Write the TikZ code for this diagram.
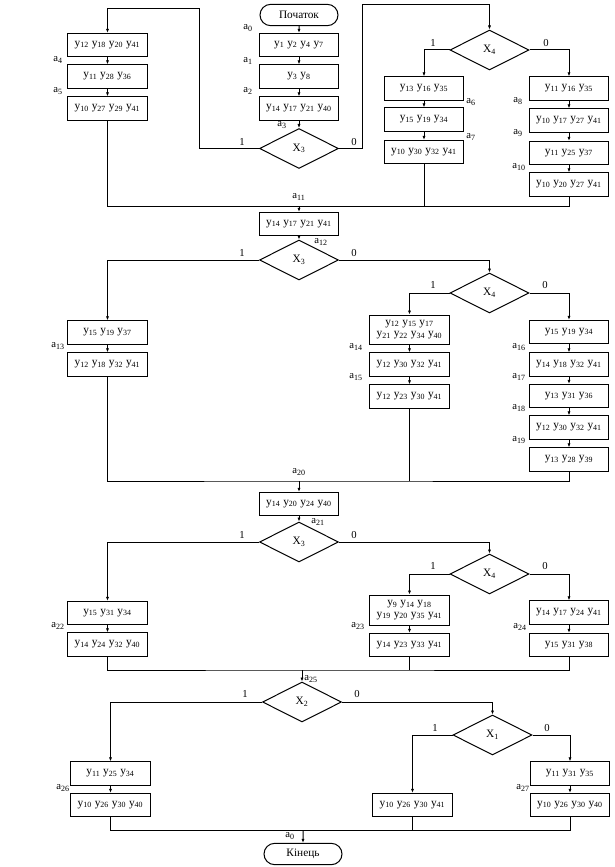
\documentclass[tikz,border=0pt]{standalone}
\usepackage{fontspec}
\setmainfont{Liberation Serif}
\usetikzlibrary{shapes.geometric,shapes.misc,arrows.meta}
\newcommand{\yv}[1]{y\textsubscript{#1}}
\newcommand{\av}[1]{a\textsubscript{#1}}
\tikzset{every picture/.style={line width=0.75pt}}
\tikzset{
  box/.style={draw, rectangle, minimum width=59.5pt, minimum height=17.5pt, inner sep=0.75pt, align=center, font=\fontsize{8.5}{9.5}\selectfont},
  cond/.style={draw, diamond, aspect=2, minimum width=59.25pt, minimum height=30pt, inner sep=0pt, font=\fontsize{8.5}{9.5}\selectfont},
  term/.style={draw, rounded rectangle, minimum width=60pt, minimum height=16pt, inner sep=0.75pt, font=\fontsize{8.5}{9.5}\selectfont},
  lbl/.style={inner sep=0.75pt, font=\fontsize{8}{9}\selectfont},
  arr/.style={-{Latex[length=3pt,width=2.4pt]}}
}

\begin{document}
\begin{tikzpicture}[x=0.75pt,y=0.75pt,yscale=-1,xscale=1]
\useasboundingbox (0,0) rectangle (614,867);

%Block: a0 -- a11
\node [term] (start) at (299,15) {Початок};
\node [box] (b1) at (299,45) {\yv{1} \yv{2} \yv{4} \yv{7}};
\node [box] (b2) at (299,76.5) {\yv{3} \yv{8}};
\node [box] (b3) at (299,108.5) {\yv{14} \yv{17} \yv{21} \yv{40}};
\node [cond] (d1) at (299,148.5) {X\textsubscript{3}};
\node [box] (L1) at (107.5,45) {\yv{12} \yv{18} \yv{20} \yv{41}};
\node [box] (L2) at (107.5,76.5) {\yv{11} \yv{28} \yv{36}};
\node [box] (L3) at (107.5,108.5) {\yv{10} \yv{27} \yv{29} \yv{41}};
\node [cond] (d2) at (489.5,50) {X\textsubscript{4}};
\node [box] (M1) at (424,88.5) {\yv{13} \yv{16} \yv{35}};
\node [box] (M2) at (424,119.5) {\yv{15} \yv{19} \yv{34}};
\node [box] (M3) at (424,152) {\yv{10} \yv{30} \yv{32} \yv{41}};
\node [box] (R1) at (569,88.5) {\yv{11} \yv{16} \yv{35}};
\node [box] (R2) at (569,120.5) {\yv{10} \yv{17} \yv{27} \yv{41}};
\node [box] (R3) at (569,153) {\yv{11} \yv{25} \yv{37}};
\node [box] (R4) at (569,184.5) {\yv{10} \yv{20} \yv{27} \yv{41}};
\coordinate (c1) at (199,9);
\coordinate (c2) at (362,5);
\coordinate (m1) at (299,206.5);

\draw [arr] (start) -- (b1);
\draw [arr] (b1) -- (b2);
\draw [arr] (b2) -- (b3);
\draw [arr] (b3) -- (d1);
\draw [arr] (d1.west) -| (c1) -| (L1.north);
\draw [arr] (L1) -- (L2);
\draw [arr] (L2) -- (L3);
\draw [arr] (d1.east) -| (c2) -| (d2.north);
\draw [arr] (d2.west) -| (M1.north);
\draw [arr] (M1) -- (M2);
\draw [arr] (M2) -- (M3);
\draw [arr] (d2.east) -| (R1.north);
\draw [arr] (R1) -- (R2);
\draw [arr] (R2) -- (R3);
\draw [arr] (R3) -- (R4);
\draw (L3.south) |- (m1) -| (R4.south);
\draw (M3.south) -- (M3.south |- m1);

% Text Node
\node [lbl] (la0) at (248,28) {\av{0}};
\node [lbl] (la1) at (248,61) {\av{1}};
\node [lbl] (la2) at (248,91) {\av{2}};
\node [lbl] (la3) at (282,125) {\av{3}};
\node [lbl] (la4) at (58,60) {\av{4}};
\node [lbl] (la5) at (58,91) {\av{5}};
\node [lbl] (la6) at (471,102) {\av{6}};
\node [lbl] (la7) at (471,137) {\av{7}};
\node [lbl] (la8) at (518,101) {\av{8}};
\node [lbl] (la9) at (518,133) {\av{9}};
\node [lbl] (la10) at (519,167) {\av{10}};
\node [lbl] (la11) at (299,197) {\av{11}};
\node [lbl] (t1a) at (242,142) {1};
\node [lbl] (t0a) at (354,142) {0};
\node [lbl] (t1b) at (433,43) {1};
\node [lbl] (t0b) at (546,43) {0};

%Block: a11 -- a20
\node [box] (b4) at (299,224) {\yv{14} \yv{17} \yv{21} \yv{41}};
\node [cond] (d3) at (299,260) {X\textsubscript{3}};
\node [cond] (d4) at (489.5,293) {X\textsubscript{4}};
\node [box] (N1) at (107.5,332.5) {\yv{15} \yv{19} \yv{37}};
\node [box] (N2) at (107.5,364.5) {\yv{12} \yv{18} \yv{32} \yv{41}};
\node [box, minimum height=21.75pt] (P1) at (409.5,329.5) {\yv{12} \yv{15} \yv{17}\\[-1pt] \yv{21} \yv{22} \yv{34} \yv{40}};
\node [box] (P2) at (409.5,364.5) {\yv{12} \yv{30} \yv{32} \yv{41}};
\node [box] (P3) at (409.5,396.5) {\yv{12} \yv{23} \yv{30} \yv{41}};
\node [box] (Q1) at (569,332) {\yv{15} \yv{19} \yv{34}};
\node [box] (Q2) at (569,364.5) {\yv{14} \yv{18} \yv{32} \yv{41}};
\node [box] (Q3) at (569,396) {\yv{13} \yv{31} \yv{36}};
\node [box] (Q4) at (569,427.5) {\yv{12} \yv{30} \yv{32} \yv{41}};
\node [box] (Q5) at (569,459.5) {\yv{13} \yv{28} \yv{39}};
\coordinate (m2) at (299,481);

\draw [arr] (m1) -- (b4);
\draw [arr] (b4) -- (d3);
\draw [arr] (d3.west) -| (N1.north);
\draw [arr] (N1) -- (N2);
\draw [arr] (d3.east) -| (d4.north);
\draw [arr] (d4.west) -| (P1.north);
\draw [arr] (P1) -- (P2);
\draw [arr] (P2) -- (P3);
\draw [arr] (d4.east) -| (Q1.north);
\draw [arr] (Q1) -- (Q2);
\draw [arr] (Q2) -- (Q3);
\draw [arr] (Q3) -- (Q4);
\draw [arr] (Q4) -- (Q5);
\draw (N2.south) |- (m2) -| (Q5.south);
\draw (P3.south) -- (P3.south |- m2);

% Text Node
\node [lbl] (la12) at (321,242) {\av{12}};
\node [lbl] (la13) at (58,346) {\av{13}};
\node [lbl] (la14) at (356,347) {\av{14}};
\node [lbl] (la15) at (356,377) {\av{15}};
\node [lbl] (la16) at (519,347) {\av{16}};
\node [lbl] (la17) at (519,377) {\av{17}};
\node [lbl] (la18) at (519,408) {\av{18}};
\node [lbl] (la19) at (519,440) {\av{19}};
\node [lbl] (la20) at (299,472) {\av{20}};
\node [lbl] (t1c) at (242,253) {1};
\node [lbl] (t0c) at (354,253) {0};
\node [lbl] (t1d) at (433,285) {1};
\node [lbl] (t0d) at (545,285) {0};

%Block: a20 -- a25
\node [box] (b5) at (299,504) {\yv{14} \yv{20} \yv{24} \yv{40}};
\node [cond] (d5) at (299,542) {X\textsubscript{3}};
\node [cond] (d6) at (489.5,574) {X\textsubscript{4}};
\node [box] (S1) at (107.5,613) {\yv{15} \yv{31} \yv{34}};
\node [box] (S2) at (107.5,644.5) {\yv{14} \yv{24} \yv{32} \yv{40}};
\node [box, minimum height=22.5pt] (T1) at (409.5,610) {\yv{9} \yv{14} \yv{18}\\[-1pt] \yv{19} \yv{20} \yv{35} \yv{41}};
\node [box] (T2) at (409.5,645) {\yv{14} \yv{23} \yv{33} \yv{41}};
\node [box] (U1) at (569,612.5) {\yv{14} \yv{17} \yv{24} \yv{41}};
\node [box] (U2) at (569,645) {\yv{15} \yv{31} \yv{38}};
\coordinate (m3) at (302,670);

\draw [arr] (m2) -- (b5);
\draw [arr] (b5) -- (d5);
\draw [arr] (d5.west) -| (S1.north);
\draw [arr] (S1) -- (S2);
\draw [arr] (d5.east) -| (d6.north);
\draw [arr] (d6.west) -| (T1.north);
\draw [arr] (T1) -- (T2);
\draw [arr] (d6.east) -| (U1.north);
\draw [arr] (U1) -- (U2);
\draw (S2.south) |- (m3) -| (U2.south);
\draw (T2.south) -- (T2.south |- m3);

% Text Node
\node [lbl] (la21) at (318,522) {\av{21}};
\node [lbl] (la22) at (58,626) {\av{22}};
\node [lbl] (la23) at (358,626) {\av{23}};
\node [lbl] (la24) at (520,627) {\av{24}};
\node [lbl] (t1e) at (242,535) {1};
\node [lbl] (t0e) at (354,535) {0};
\node [lbl] (t1f) at (433,566) {1};
\node [lbl] (t0f) at (545,566) {0};

%Block: a25 -- end
\node [cond] (d7) at (302,702) {X\textsubscript{2}};
\node [cond] (d8) at (492.5,735) {X\textsubscript{1}};
\node [box] (V1) at (110.5,773.5) {\yv{11} \yv{25} \yv{34}};
\node [box] (V2) at (110.5,805) {\yv{10} \yv{26} \yv{30} \yv{40}};
\node [box] (W1) at (412.5,805) {\yv{10} \yv{26} \yv{30} \yv{41}};
\node [box] (Z1) at (570,773.5) {\yv{11} \yv{31} \yv{35}};
\node [box] (Z2) at (570,805) {\yv{10} \yv{26} \yv{30} \yv{40}};
\node [term] (stop) at (303,854) {Кінець};
\coordinate (m4) at (303,830);

\draw [arr] (m3) -- (d7);
\draw [arr] (d7.west) -| (V1.north);
\draw [arr] (V1) -- (V2);
\draw [arr] (d7.east) -| (d8.north);
\draw [arr] (d8.west) -| (W1.north);
\draw [arr] (d8.east) -| (Z1.north);
\draw [arr] (Z1) -- (Z2);
\draw (V2.south) |- (m4) -| (Z2.south);
\draw (W1.south) -- (W1.south |- m4);
\draw [arr] (m4) -- (stop);

% Text Node
\node [lbl] (la25) at (311,679) {\av{25}};
\node [lbl] (la26) at (63,788) {\av{26}};
\node [lbl] (la27) at (523,788) {\av{27}};
\node [lbl] (la0b) at (290,836) {\av{0}};
\node [lbl] (t1g) at (245,694) {1};
\node [lbl] (t0g) at (357,694) {0};
\node [lbl] (t1h) at (435,728) {1};
\node [lbl] (t0h) at (547,728) {0};

\end{tikzpicture}
\end{document}
